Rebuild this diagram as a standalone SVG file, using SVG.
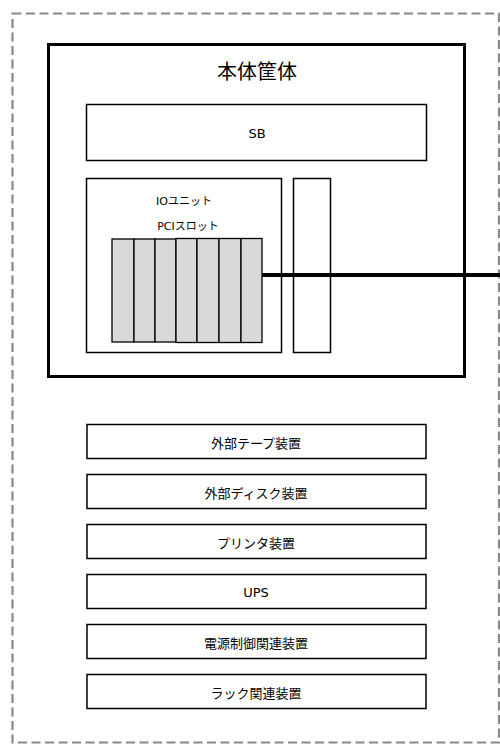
<svg xmlns="http://www.w3.org/2000/svg" width="500" height="744" viewBox="0 0 500 744">
<style>
.b{fill:#fff;stroke:#000;stroke-width:1.5}
.s{fill:#d9d9d9;stroke:#000;stroke-width:1.3}
text{font-family:"DejaVu Sans","Noto Sans CJK JP",sans-serif;text-anchor:middle;fill:#000}
.t{font-size:13px}
.u{font-size:11px}
</style>
<rect x="0" y="0" width="500" height="744" fill="#fff"/>
<rect id="outer" x="12.5" y="13.5" width="486.5" height="729" fill="none" stroke="#888" stroke-width="2.2" stroke-dasharray="9,4.5"/>
<g id="main">
<rect x="48.5" y="44.5" width="416" height="332" fill="#fff" stroke="#000" stroke-width="3"/>
<text x="257" y="79" font-size="20">本体筐体</text>
</g>
<g id="sb"><rect class="b" x="86.5" y="104.5" width="340" height="56"/><text class="t" x="257" y="138">SB</text></g>
<g id="io"><rect class="b" x="86.5" y="178.5" width="195" height="174"/>
<text class="u" x="184" y="205">IOユニット</text>
<text class="u" x="188" y="230">PCIスロット</text></g>
<g id="bus"><rect class="b" x="293.5" y="178.5" width="37" height="174"/></g>
<g id="pci">
<rect class="s" x="112" y="239" width="22" height="103"/>
<rect class="s" x="134" y="239" width="21" height="103"/>
<rect class="s" x="155" y="239" width="21" height="103"/>
<rect class="s" x="176" y="238.5" width="21" height="104"/>
<rect class="s" x="197" y="238.5" width="22" height="104"/>
<rect class="s" x="219" y="238.5" width="22" height="104"/>
<rect class="s" x="241" y="238.5" width="21" height="104"/>
</g>
<g id="connectors"><line x1="262" y1="275" x2="500" y2="275" stroke="#000" stroke-width="4"/></g>
<g id="d1"><rect class="b" x="87" y="424.5" width="339" height="34"/><text class="t" x="256" y="448">外部テープ装置</text></g>
<g id="d2"><rect class="b" x="87" y="474.5" width="339" height="34"/><text class="t" x="256" y="498">外部ディスク装置</text></g>
<g id="d3"><rect class="b" x="87" y="524.5" width="339" height="34"/><text class="t" x="256" y="548">プリンタ装置</text></g>
<g id="d4"><rect class="b" x="87" y="574.5" width="339" height="34"/><text class="t" x="256" y="597">UPS</text></g>
<g id="d5"><rect class="b" x="87" y="624.5" width="339" height="34"/><text class="t" x="256" y="648">電源制御関連装置</text></g>
<g id="d6"><rect class="b" x="87" y="674.5" width="339" height="34"/><text class="t" x="256" y="698">ラック関連装置</text></g>
</svg>
